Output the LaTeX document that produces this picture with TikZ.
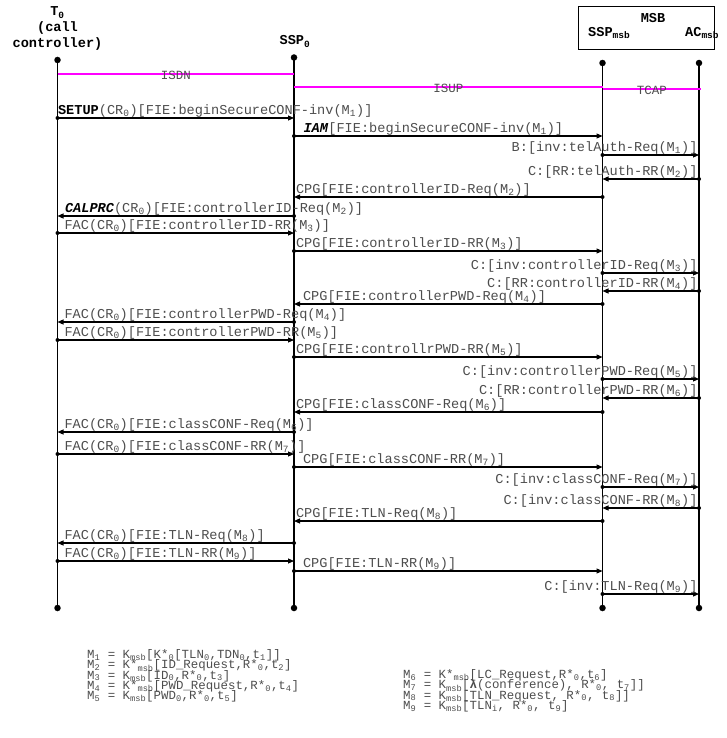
\documentclass[tikz,border=0pt]{standalone}
\usepackage{fontspec}
\setmainfont{Liberation Mono}
\usetikzlibrary{arrows.meta}

\definecolor{msggray}{RGB}{77,77,77}
\definecolor{protomag}{RGB}{255,0,255}
\newcommand{\sbs}[1]{\textsubscript{#1}}
\newcommand{\msgfont}{\fontsize{13.6}{15}\selectfont}
\newcommand{\keyfont}{\fontsize{12.4}{10.2}\selectfont\lineskiplimit=-20pt\relax}
\newcommand{\headfont}{\fontsize{13.6}{16}\selectfont\bfseries\lineskiplimit=-20pt\relax}

\begin{document}
\begin{tikzpicture}[
  x=1pt,
  y=-1pt,
  >={Triangle[length=6pt,width=5pt]},
  every node/.style={font=\msgfont,inner sep=0pt},
  head/.style={font=\msgfont\bfseries,align=center},
  lifedot/.style={circle,fill,minimum size=6.5pt},
  msgdot/.style={circle,fill,minimum size=4pt},
  life/.style={line width=1.3pt},
  msg/.style={->,line width=1.1pt},
  lblL/.style={anchor=base west,text=msggray,xshift=#1,yshift=3.5pt},
  lblL/.default=6.5pt,
  lblR/.style={anchor=base east,text=msggray,xshift=-1pt,yshift=3.5pt},
  proto/.style={color=protomag,line width=1.2pt},
  protolbl/.style={text=msggray,font=\fontsize{12.5}{13}\selectfont,yshift=-1.5pt},
  keys/.style={anchor=north west,align=left,text=msggray,font=\keyfont}
]
\useasboundingbox (0,0) rectangle (727,738);

% Participants
\node[head,anchor=north,font=\headfont] (t0head) at (57.5,6.8) {T\sbs{0}\\(call\\controller)};
\node[head,anchor=base] (ssp0head) at (295,45) {SSP\sbs{0}};
\node[draw,line width=1pt,minimum width=136pt,minimum height=43pt] (msb) at (646,28.5) {};
\node[head,anchor=base] (msbhead) at (653,22.7) {MSB};
\node[head,anchor=base west] (smhead) at (588,36.7) {SSP\sbs{msb}};
\node[head,anchor=base west] (achead) at (685,36.7) {AC\sbs{msb}};

% Lifelines
\node[lifedot] (t0top) at (57.5,60) {};
\node[lifedot] (ssp0top) at (294,57.5) {};
\node[lifedot] (smtop) at (602.5,63) {};
\node[lifedot] (actop) at (699,63) {};
\node[lifedot] (t0bot) at (57.5,608) {};
\node[lifedot] (ssp0bot) at (294,608) {};
\node[lifedot] (smbot) at (602.5,608) {};
\node[lifedot] (acbot) at (699,608) {};
\draw[life] (t0top.center) -- (t0bot.center);
\draw[life] (ssp0top.center) -- (ssp0bot.center);
\draw[life] (smtop.center) -- (smbot.center);
\draw[life] (actop.center) -- (acbot.center);

% Protocols
\coordinate (isdn) at (0,74);
\coordinate (isup) at (0,87);
\coordinate (tcap) at (0,89);
\coordinate (tcapend) at (701,89);
\draw[proto] (t0top |- isdn) -- node[protolbl] (isdnlbl) {ISDN} (ssp0top |- isdn);
\draw[proto] (ssp0top |- isup) -- node[protolbl] (isuplbl) {ISUP} (smtop |- isup);
\draw[proto] (smtop |- tcap) -- node[protolbl] (tcaplbl) {TCAP} (tcapend);

% Messages
\coordinate (r1) at (0,118);
\draw[msg] (t0top |- r1) node[msgdot] {} node[lblL=0pt] {\textcolor{black}{\textbf{SETUP}}(CR\sbs{0})[FIE:beginSecureCONF-inv(M\sbs{1})]} -- (ssp0top |- r1);
\coordinate (r2) at (0,136);
\draw[msg] (ssp0top |- r2) node[msgdot] {} node[lblL=9pt] {\textcolor{black}{\textbf{\textit{IAM}}}[FIE:beginSecureCONF-inv(M\sbs{1})]} -- (smtop |- r2);
\coordinate (r3) at (0,155);
\draw[msg] (smtop |- r3) node[msgdot] {} -- (actop |- r3) node[lblR] {B:[inv:telAuth-Req(M\sbs{1})]};
\coordinate (r4) at (0,179);
\draw[msg] (actop |- r4) node[msgdot] {} node[lblR] {C:[RR:telAuth-RR(M\sbs{2})]} -- (smtop |- r4);
\coordinate (r5) at (0,197);
\draw[msg] (smtop |- r5) node[msgdot] {} -- (ssp0top |- r5) node[lblL=1.5pt] {CPG[FIE:controllerID-Req(M\sbs{2})]};
\coordinate (r6) at (0,216);
\draw[msg] (ssp0top |- r6) node[msgdot] {} -- (t0top |- r6) node[lblL=7pt] {\textcolor{black}{\textbf{\textit{CALPRC}}}(CR\sbs{0})[FIE:controllerID-Req(M\sbs{2})]};
\coordinate (r7) at (0,233);
\draw[msg] (t0top |- r7) node[msgdot] {} node[lblL] {FAC(CR\sbs{0})[FIE:controllerID-RR(M\sbs{3})]} -- (ssp0top |- r7);
\coordinate (r8) at (0,251);
\draw[msg] (ssp0top |- r8) node[msgdot] {} node[lblL=1.5pt] {CPG[FIE:controllerID-RR(M\sbs{3})]} -- (smtop |- r8);
\coordinate (r9) at (0,273);
\draw[msg] (smtop |- r9) node[msgdot] {} -- (actop |- r9) node[lblR] {C:[inv:controllerID-Req(M\sbs{3})]};
\coordinate (r10) at (0,291);
\draw[msg] (actop |- r10) node[msgdot] {} node[lblR] {C:[RR:controllerID-RR(M\sbs{4})]} -- (smtop |- r10);
\coordinate (r11) at (0,304);
\draw[msg] (smtop |- r11) node[msgdot] {} -- (ssp0top |- r11) node[lblL=8.5pt] {CPG[FIE:controllerPWD-Req(M\sbs{4})]};
\coordinate (r12) at (0,322);
\draw[msg] (ssp0top |- r12) node[msgdot] {} -- (t0top |- r12) node[lblL] {FAC(CR\sbs{0})[FIE:controllerPWD-Req(M\sbs{4})]};
\coordinate (r13) at (0,340);
\draw[msg] (t0top |- r13) node[msgdot] {} node[lblL] {FAC(CR\sbs{0})[FIE:controllerPWD-RR(M\sbs{5})]} -- (ssp0top |- r13);
\coordinate (r14) at (0,357);
\draw[msg] (ssp0top |- r14) node[msgdot] {} node[lblL=1.5pt] {CPG[FIE:controllrPWD-RR(M\sbs{5})]} -- (smtop |- r14);
\coordinate (r15) at (0,379);
\draw[msg] (smtop |- r15) node[msgdot] {} -- (actop |- r15) node[lblR] {C:[inv:controllerPWD-Req(M\sbs{5})]};
\coordinate (r16) at (0,398);
\draw[msg] (actop |- r16) node[msgdot] {} node[lblR] {C:[RR:controllerPWD-RR(M\sbs{6})]} -- (smtop |- r16);
\coordinate (r17) at (0,412);
\draw[msg] (smtop |- r17) node[msgdot] {} -- (ssp0top |- r17) node[lblL=1.5pt] {CPG[FIE:classCONF-Req(M\sbs{6})]};
\coordinate (r18) at (0,432);
\draw[msg] (ssp0top |- r18) node[msgdot] {} -- (t0top |- r18) node[lblL] {FAC(CR\sbs{0})[FIE:classCONF-Req(M\sbs{6})]};
\coordinate (r19) at (0,454);
\draw[msg] (t0top |- r19) node[msgdot] {} node[lblL] {FAC(CR\sbs{0})[FIE:classCONF-RR(M\sbs{7})]} -- (ssp0top |- r19);
\coordinate (r20) at (0,467);
\draw[msg] (ssp0top |- r20) node[msgdot] {} node[lblL=8.5pt] {CPG[FIE:classCONF-RR(M\sbs{7})]} -- (smtop |- r20);
\coordinate (r21) at (0,487);
\draw[msg] (smtop |- r21) node[msgdot] {} -- (actop |- r21) node[lblR] {C:[inv:classCONF-Req(M\sbs{7})]};
\coordinate (r22) at (0,508);
\draw[msg] (actop |- r22) node[msgdot] {} node[lblR] {C:[inv:classCONF-RR(M\sbs{8})]} -- (smtop |- r22);
\coordinate (r23) at (0,521);
\draw[msg] (smtop |- r23) node[msgdot] {} -- (ssp0top |- r23) node[lblL=1.5pt] {CPG[FIE:TLN-Req(M\sbs{8})]};
\coordinate (r24) at (0,543);
\draw[msg] (ssp0top |- r24) node[msgdot] {} -- (t0top |- r24) node[lblL] {FAC(CR\sbs{0})[FIE:TLN-Req(M\sbs{8})]};
\coordinate (r25) at (0,561);
\draw[msg] (t0top |- r25) node[msgdot] {} node[lblL] {FAC(CR\sbs{0})[FIE:TLN-RR(M\sbs{9})]} -- (ssp0top |- r25);
\coordinate (r26) at (0,571);
\draw[msg] (ssp0top |- r26) node[msgdot] {} node[lblL=8.5pt] {CPG[FIE:TLN-RR(M\sbs{9})]} -- (smtop |- r26);
\coordinate (r27) at (0,594);
\draw[msg] (smtop |- r27) node[msgdot] {} -- (actop |- r27) node[lblR] {C:[inv:TLN-Req(M\sbs{9})]};

% Key
\node[keys] (keyleft) at (87,649.5) {M\sbs{1} = K\sbs{msb}[K*\sbs{0}[TLN\sbs{0},TDN\sbs{0},t\sbs{1}]]\\
M\sbs{2} = K*\sbs{msb}[ID\_Request,R*\sbs{0},t\sbs{2}]\\
M\sbs{3} = K\sbs{msb}[ID\sbs{0},R*\sbs{0},t\sbs{3}]\\
M\sbs{4} = K*\sbs{msb}[PWD\_Request,R*\sbs{0},t\sbs{4}]\\
M\sbs{5} = K\sbs{msb}[PWD\sbs{0},R*\sbs{0},t\sbs{5}]};
\node[keys] (keyright) at (403,669.5) {M\sbs{6} = K*\sbs{msb}[LC\_Request,R*\sbs{0},t\sbs{6}]\\
M\sbs{7} = K\sbs{msb}[\textbf{λ}(conference), R*\sbs{0}, t\sbs{7}]]\\
M\sbs{8} = K\sbs{msb}[TLN\_Request, R*\sbs{0}, t\sbs{8}]]\\
M\sbs{9} = K\sbs{msb}[TLN\sbs{i}, R*\sbs{0}, t\sbs{9}]};
\end{tikzpicture}
\end{document}
